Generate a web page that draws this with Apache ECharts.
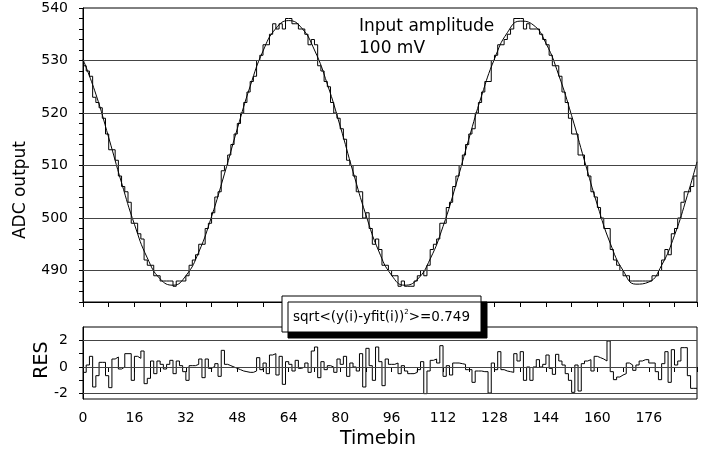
<!DOCTYPE html>
<html><head><meta charset="utf-8">
<script src="https://cdn.jsdelivr.net/npm/echarts@6/dist/echarts.min.js"></script>
<style>html,body{margin:0;padding:0;background:#fff}#c{width:707px;height:451px}</style>
</head><body><div id="c"></div>
<script>
// ADC output per timebin (integer counts)
const adcValues = [
529,528,527,523,522,521,519,516,513,513,
511,508,506,505,503,499,499,497,496,492,
491,491,489,489,488,488,488,488,487,488,
488,488,489,491,492,493,495,495,498,499,
501,504,505,509,510,512,514,516,518,520,
522,524,526,527,530,531,533,533,535,537,
536,537,536,538,538,537,537,536,536,535,
533,534,533,529,528,526,525,522,520,519,
517,515,511,510,508,505,505,500,501,498,
495,496,494,491,491,490,489,489,487,488,
487,487,487,488,489,490,489,491,494,495,
496,499,499,502,503,506,508,510,512,514,
516,517,520,522,524,526,526,530,531,533,
533,534,535,536,538,538,538,536,537,536,
536,536,535,534,533,531,529,529,527,524,
522,519,516,516,512,512,510,508,505,504,
502,500,498,498,494,492,491,490,489,489,
488,488,488,488,488,488,488,489,489,490,
492,494,493,497,498,500,503,505,505,506,
508];
// residuals per timebin
const residualValues = [
-0.4,0.15,0.8,-1.5,-0.65,0.35,0.35,-0.65,-1.55,0.6,
0.75,-0.15,0,1,1,-1,0.8,0.65,1.2,-1.25,
-0.85,0.45,-0.5,0.45,0.2,-0.15,0.2,0.5,-0.5,0.45,
0.1,-0.35,-1,0.1,0.1,0.2,0.6,-0.8,0.6,-0.1,
0.05,0.25,-0.7,1.25,0.2,0.1,0,-0.1,-0.2,-0.3,
-0.35,-0.4,-0.4,-0.3,0.7,-0.2,0.3,-0.5,0.9,1.0,
-0.6,0.8,-1.3,0.4,0.2,-0.3,0.5,-0.1,0,0.3,
-0.4,1.2,1.5,-0.8,0.4,-0.2,0.1,0,-0.4,0.6,
0.2,0.8,-0.7,0.3,0,-0.3,1,-1.5,1.4,0.1,
-1,1.5,0.4,-1.4,0.6,0.2,0.2,0.3,-0.5,0.1,
-0.3,-0.5,-0.5,-0.4,-0.2,0.4,-2,-0.3,0.5,0.6,
0.3,1.6,-0.7,0.1,-0.6,0.3,0.3,0.25,0.2,-0.2,
-0.2,-1.15,-0.3,-0.3,-0.35,-0.35,-1.95,0.3,-0.2,1.15,
-0.2,-0.3,-0.35,-0.4,1,0.45,1.15,-1,0,-1,
0,0.55,0,0.2,0.9,-0.1,-0.55,0.95,0.45,0.15,
-0.5,-1,-1.9,0.15,-1.8,0.25,0.45,0.55,-0.3,0.8,
0.7,0.6,0.45,1.95,-0.35,-0.95,-0.75,-0.6,-0.5,0.3,
0.15,-0.25,0.15,0.45,0.55,0.55,0.3,0.3,-0.35,-0.95,
0.25,1.15,-1.15,1.3,0.15,0.45,1.45,1.45,-0.65,-1.6,
-1.6];
// fit curve samples
const fitX = [0,4,8,12,16,20,24,28,32,36,40,44,48,52,56,60,64,68,72,76,80,84,88,92,96,100,104,108,112,116,120,124,128,132,136,140,144,148,152,156,160,164,168,172,176,180,184,188,191];
const fitValues = [530.2,523.6,515.3,506.7,498.8,492.4,488.4,487.2,489.0,493.5,500.3,508.4,517.0,525.1,531.8,536.1,537.6,536.2,532.0,525.5,517.5,508.8,500.6,493.7,489.1,487.2,488.3,492.2,498.4,506.3,515.0,523.3,530.3,535.3,537.5,536.8,533.3,527.2,519.5,510.9,502.5,495.2,490.0,487.4,487.8,491.0,496.7,504.3,510.7];
const topGridLines = [490,500,510,520,530];
const resGridLines = [-2,0,2];
const resTicks = [-2,-1,0,1,2];
const resLabels = [-2,0,2];
const xLabelStep = 16;
const fitText = ['sqrt<(y(i)-yfit(i))', '2', '>=0.749'];

const FONT = 'DejaVu Sans';
const nBins = adcValues.length;
const adcData = adcValues.map((v,i)=>[i,v]); adcData.push([nBins, adcValues[nBins-1]]);
const resData = residualValues.map((v,i)=>[i,v]); resData.push([nBins, residualValues[nBins-1]]);
const fitData = fitX.map((x,i)=>[x,fitValues[i]]);

const chart = echarts.init(document.getElementById('c'), null, {renderer:'canvas'});
const axisLine = {show:true, lineStyle:{color:'#000', width:1}};
const tick = {show:true, inside:false, length:5, lineStyle:{color:'#000', width:1}};
const gridLineStyle = {color:'#444', width:1, type:'solid'};
chart.setOption({
  animation:false,
  backgroundColor:'#fff',
  grid:[
    {left:83, right:10, top:8, height:294, show:true, borderColor:'#000', borderWidth:1},
    {left:83, right:10, top:327, height:72, show:true, borderColor:'#000', borderWidth:1}
  ],
  xAxis:[
    {type:'value', gridIndex:0, min:0, max:nBins, interval:8, axisLine, axisTick:tick, axisLabel:{show:false}, splitLine:{show:false}},
    {type:'value', gridIndex:1, min:0, max:nBins, interval:8, axisLine, axisTick:tick,
     axisLabel:{show:true, margin:12, color:'#000', fontFamily:FONT, fontSize:14, formatter:v=> (v%xLabelStep===0 && v<nBins)? String(v):''},
     splitLine:{show:false}}
  ],
  yAxis:[
    {type:'value', gridIndex:0, min:484, max:540, interval:2, axisLine, axisTick:{...tick, length:4},
     axisLabel:{show:true, margin:15, color:'#000', fontFamily:FONT, fontSize:14, formatter:v=> v%10===0? String(v):''},
     splitLine:{show:false}},
    {type:'value', gridIndex:1, min:-2.4, max:3, axisLine, axisTick:{...tick, length:4, customValues:resTicks},
     axisLabel:{show:true, margin:15, color:'#000', fontFamily:FONT, fontSize:14, customValues:resLabels},
     splitLine:{show:false}}
  ],
  series:[
    {type:'line', xAxisIndex:0, yAxisIndex:0, data:adcData, step:'end', symbol:'none', lineStyle:{color:'#000', width:1},
     markLine:{silent:true, symbol:['none','none'], label:{show:false}, lineStyle:gridLineStyle, data:topGridLines.map(v=>({yAxis:v}))}},
    {type:'line', xAxisIndex:0, yAxisIndex:0, data:fitData, smooth:0.5, symbol:'none', lineStyle:{color:'#000', width:1}},
    {type:'line', xAxisIndex:1, yAxisIndex:1, data:resData, step:'end', symbol:'none', lineStyle:{color:'#000', width:1},
     markLine:{silent:true, symbol:['none','none'], label:{show:false}, lineStyle:gridLineStyle, data:resGridLines.map(v=>({yAxis:v}))}}
  ],
  graphic:[
    {type:'text', left:359, top:18, style:{text:'Input amplitude', font:'17px "DejaVu Sans"', fill:'#000'}},
    {type:'text', left:359, top:40, style:{text:'100 mV', font:'17px "DejaVu Sans"', fill:'#000'}},
    {type:'text', x:21, y:190, rotation:Math.PI/2, style:{text:'ADC output', font:'17px "DejaVu Sans"', fill:'#000', align:'center', verticalAlign:'middle'}},
    {type:'text', x:42, y:360, rotation:Math.PI/2, style:{text:'RES', font:'19px "DejaVu Sans"', fill:'#000', align:'center', verticalAlign:'middle'}},
    {type:'text', x:378, y:439, style:{text:'Timebin', font:'19px "DejaVu Sans"', fill:'#000', align:'center', verticalAlign:'middle'}},
    {type:'rect', z:100, shape:{x:282, y:296, width:199, height:36}, style:{fill:'#fff', stroke:'#000', lineWidth:1, shadowColor:'#000', shadowBlur:0, shadowOffsetX:6, shadowOffsetY:6}},
    {type:'text', z:101, x:293, y:317, style:{text:'{a|'+fitText[0]+'}{s|'+fitText[1]+'}{a|'+fitText[2]+'}', fill:'#000', verticalAlign:'middle',
      rich:{a:{fontFamily:FONT, fontSize:13.5, lineHeight:16}, s:{fontFamily:FONT, fontSize:7, lineHeight:10, verticalAlign:'top'}}}}
  ]
});
</script></body></html>
